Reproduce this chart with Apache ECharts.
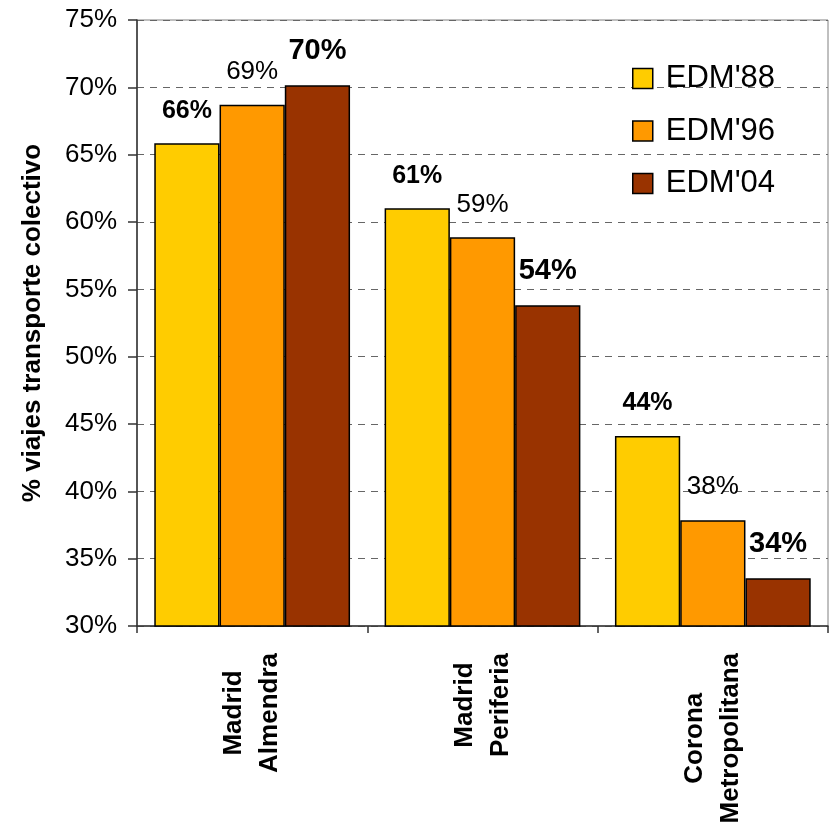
<!DOCTYPE html>
<html>
<head>
<meta charset="utf-8">
<script src="https://cdn.jsdelivr.net/npm/echarts@6/dist/echarts.min.js"></script>
<style>
html,body{margin:0;padding:0;background:#fff;}
#chart{width:831px;height:827px;}
</style>
</head>
<body>
<div id="chart"></div>
<script>
const categories = ['Madrid\nAlmendra', 'Madrid\nPeriferia', 'Corona\nMetropolitana'];
const seriesNames = ["EDM'88", "EDM'96", "EDM'04"];
const edm88 = [65.84, 61.02, 44.11];
const edm96 = [68.71, 58.86, 37.85];
const edm04 = [70.15, 53.81, 33.54];
const yTicks = { min: 30, max: 75, interval: 5 };

const FONT = "'Liberation Sans', Arial, sans-serif";
const colors = ['#FFCC00', '#FF9900', '#993300'];
const labelStyles = [
  { fontSize: 25, fontWeight: 'bold' },
  { fontSize: 26, fontWeight: 'normal' },
  { fontSize: 29, fontWeight: 'bold' }
];
const values = [edm88, edm96, edm04];

const chart = echarts.init(document.getElementById('chart'), null, { renderer: 'canvas' });
chart.setOption({
  animation: false,
  backgroundColor: '#fff',
  textStyle: { fontFamily: FONT, color: '#000' },
  grid: {
    left: 137, right: 3, top: 20, bottom: 201,
    show: true, borderColor: '#808080', borderWidth: 1, backgroundColor: 'transparent'
  },
  legend: {
    orient: 'vertical',
    left: 632, top: 63,
    padding: 0,
    itemWidth: 20, itemHeight: 20, itemGap: 21.5,
    icon: 'rect',
    itemStyle: { borderColor: '#000', borderWidth: 1.5 },
    textStyle: { fontSize: 31, color: '#000', fontFamily: FONT, padding: [0, 0, 0, 8] },
    data: seriesNames
  },
  xAxis: {
    type: 'category',
    data: categories,
    boundaryGap: true,
    axisLine: { lineStyle: { color: '#333', width: 1.5 } },
    axisTick: { show: true, length: 7, interval: 0, lineStyle: { color: '#333', width: 1.5 } },
    axisLabel: {
      interval: 0,
      rotate: 90,
      margin: 27,
      formatter: function (v) {
        return v.split('\n').map(function (s) { return '{a|' + s + '}'; }).join('\n');
      },
      rich: {
        a: { fontSize: 26, fontWeight: 'bold', lineHeight: 36, align: 'center', color: '#000', fontFamily: FONT }
      }
    }
  },
  yAxis: {
    type: 'value',
    min: yTicks.min, max: yTicks.max, interval: yTicks.interval,
    name: '% viajes transporte colectivo',
    nameLocation: 'middle',
    nameRotate: 90,
    nameGap: 91,
    nameTextStyle: { fontSize: 26, fontWeight: 'bold', color: '#000', fontFamily: FONT },
    axisLine: { show: true, lineStyle: { color: '#333', width: 1.5 } },
    axisTick: { show: true, length: 9, inside: false, lineStyle: { color: '#333', width: 1.5 } },
    axisLabel: { formatter: '{value}%', fontSize: 26, color: '#000', margin: 20, fontFamily: FONT },
    splitLine: { show: true, lineStyle: { color: '#666', type: [7, 6], width: 1 } }
  },
  series: seriesNames.map(function (name, i) {
    return {
      name: name,
      type: 'bar',
      data: values[i],
      barGap: '0%',
      barCategoryGap: '15%',
      itemStyle: { color: colors[i], borderColor: '#000', borderWidth: 1.5 },
      label: {
        show: true,
        position: 'top',
        distance: 20,
        color: '#000',
        fontFamily: FONT,
        fontSize: labelStyles[i].fontSize,
        fontWeight: labelStyles[i].fontWeight,
        formatter: function (p) { return Math.round(p.value) + '%'; }
      }
    };
  })
});
</script>
</body>
</html>
